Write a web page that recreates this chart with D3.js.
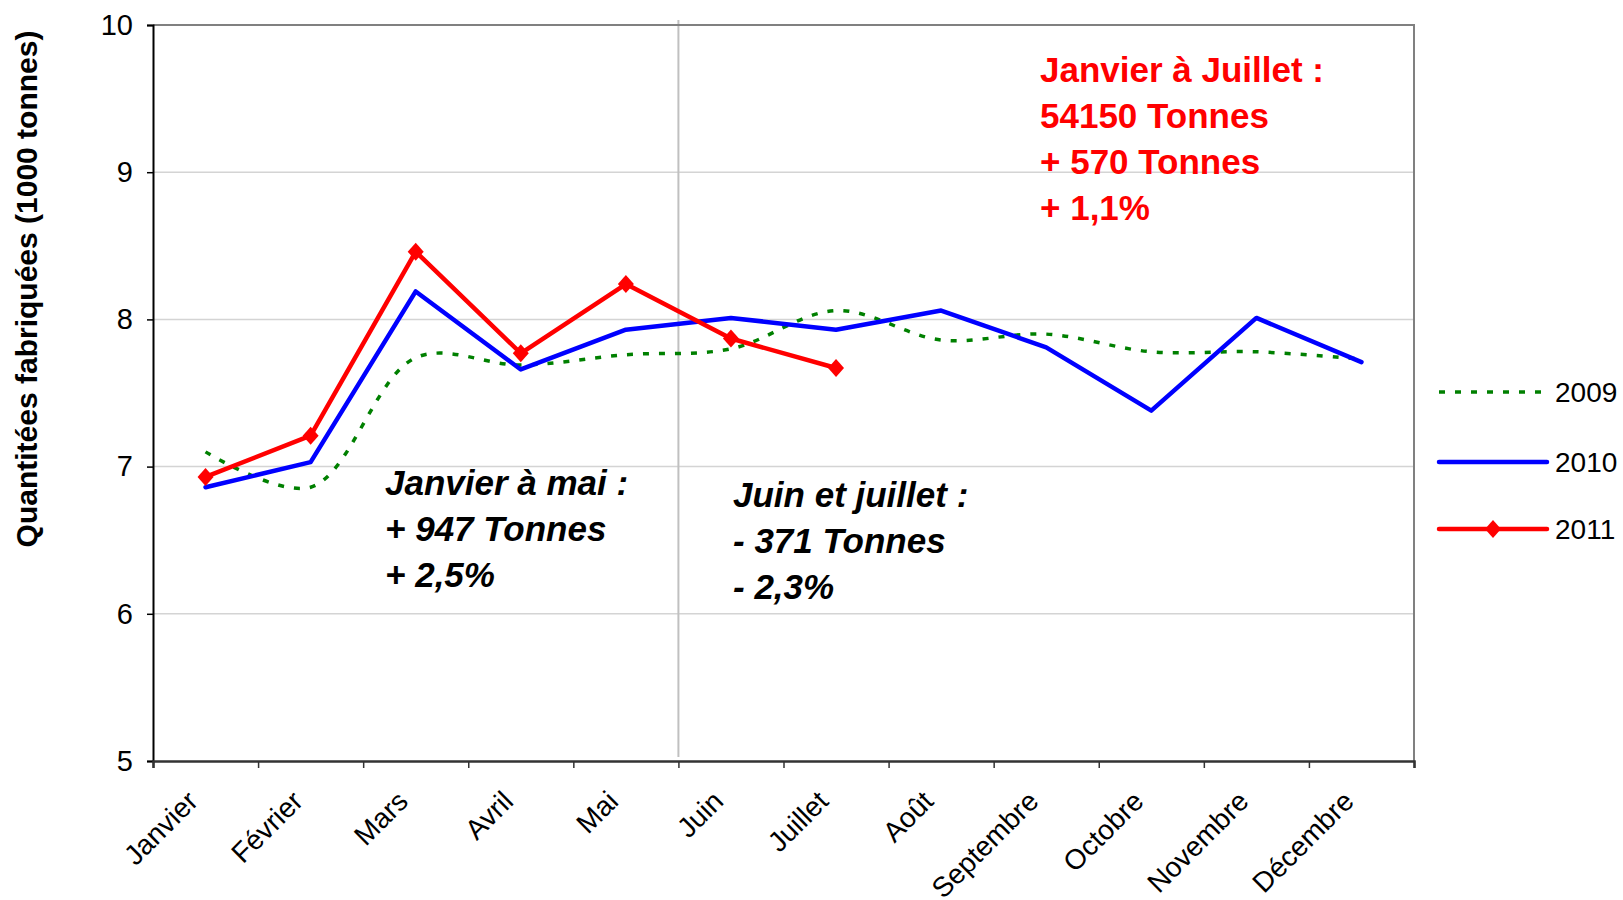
<!DOCTYPE html>
<html lang="fr">
<head>
<meta charset="UTF-8">
<title>Quantités fabriquées</title>
<script src="https://cdn.jsdelivr.net/npm/d3@7/dist/d3.min.js"></script>
<style>
  body { margin: 0; background: #fff; }
  svg { display: block; font-family: "Liberation Sans", Arial, sans-serif; }
</style>
</head>
<body>
<svg id="chart" width="1623" height="900"></svg>
<script>
// months on the x axis
const months = ['Janvier', 'Février', 'Mars', 'Avril', 'Mai', 'Juin', 'Juillet',
                'Août', 'Septembre', 'Octobre', 'Novembre', 'Décembre']
// values in 1000 tonnes
const v2009 = [7.10, 6.86, 7.74, 7.69, 7.76, 7.80, 8.06, 7.86, 7.90, 7.78, 7.78, 7.73]
const v2010 = [6.86, 7.03, 8.19, 7.66, 7.93, 8.01, 7.93, 8.06, 7.81, 7.38, 8.01, 7.71]
const v2011 = [6.93, 7.21, 8.46, 7.77, 8.24, 7.87, 7.67]
const yTicks = [5, 6, 7, 8, 9, 10]
const splitMonth = 'Juin'

const noteRed = ['Janvier à Juillet :', '54150 Tonnes', '+ 570 Tonnes', '+ 1,1%']
const noteA = ['Janvier à mai :', '+ 947 Tonnes', '+ 2,5%']
const noteB = ['Juin et juillet :', '- 371 Tonnes', '- 2,3%']

const svg = d3.select('#chart')
const L = 153, R = 1414, T = 25, B = 761

const x = d3.scaleBand().domain(months).range([L, R])
const xEdge = d3.scaleLinear().domain([0, months.length]).range([L, R])
const y = d3.scaleLinear().domain([5, 10]).range([B, T])
const cx = m => x(m) + x.bandwidth() / 2

// horizontal grid
svg.append('g')
    .selectAll('line')
    .data(yTicks.filter(t => t > 5 && t < 10))
    .join('line')
    .attr('x1', L).attr('x2', R)
    .attr('y1', d => y(d)).attr('y2', d => y(d))
    .attr('stroke', '#d4d4d4')
    .attr('stroke-width', 1.5)

// split line between Mai and Juin
svg.append('line')
    .attr('x1', x(splitMonth)).attr('x2', x(splitMonth))
    .attr('y1', T - 5).attr('y2', B - 4)
    .attr('stroke', '#c0c0c0')
    .attr('stroke-width', 2)

// top + right border
svg.append('path')
    .attr('d', `M${L},${T}H${R}V${B}`)
    .attr('fill', 'none')
    .attr('stroke', '#808080')
    .attr('stroke-width', 2)

// y axis
const yAxis = svg.append('g')
    .attr('transform', `translate(${L},0)`)
    .call(d3.axisLeft(y).tickValues(yTicks).tickFormat(d3.format('d')).tickSize(6).tickPadding(14))
yAxis.select('.domain').attr('stroke', '#000').attr('stroke-width', 2)
yAxis.selectAll('.tick line').attr('stroke', '#000').attr('stroke-width', 1.5)
yAxis.selectAll('.tick text')
    .attr('font-size', 29)
    .attr('font-family', '"Liberation Sans", Arial, sans-serif')
    .attr('fill', '#000')

// x axis ticks at category edges
const xAxis = svg.append('g')
    .attr('transform', `translate(0,${B})`)
    .call(d3.axisBottom(xEdge).tickValues(d3.range(months.length + 1)).tickSize(7).tickFormat(''))
xAxis.select('.domain').attr('stroke', '#333').attr('stroke-width', 2.5)
xAxis.selectAll('.tick line').attr('stroke', '#333').attr('stroke-width', 1.5)

svg.append('g')
    .selectAll('text')
    .data(months)
    .join('text')
    .attr('transform', d => `translate(${cx(d) - 6},${B + 42}) rotate(-45)`)
    .attr('text-anchor', 'end')
    .attr('font-size', 28)
    .text(d => d)

// y title
svg.append('text')
    .attr('transform', 'translate(37,289) rotate(-90)')
    .attr('text-anchor', 'middle')
    .attr('font-size', 30)
    .attr('font-weight', 'bold')
    .text('Quantitées fabriquées (1000 tonnes)')

// series
const line = d3.line().x((d, i) => cx(months[i])).y(d => y(d))
const smooth = d3.line().x((d, i) => cx(months[i])).y(d => y(d)).curve(d3.curveCatmullRom.alpha(0.5))

svg.append('path')
    .attr('d', smooth(v2009))
    .attr('fill', 'none')
    .attr('stroke', '#008000')
    .attr('stroke-width', 3.5)
    .attr('stroke-dasharray', '6,10')

svg.append('path')
    .attr('d', line(v2010))
    .attr('fill', 'none')
    .attr('stroke', '#0000ff')
    .attr('stroke-width', 4.5)
    .attr('stroke-linejoin', 'round')
    .attr('stroke-linecap', 'round')

svg.append('path')
    .attr('d', line(v2011))
    .attr('fill', 'none')
    .attr('stroke', '#ff0000')
    .attr('stroke-width', 4.5)
    .attr('stroke-linejoin', 'round')
    .attr('stroke-linecap', 'round')

const diamond = (w, h) => `M0,${-h}L${w},0L0,${h}L${-w},0Z`
svg.append('g')
    .selectAll('path')
    .data(v2011)
    .join('path')
    .attr('transform', (d, i) => `translate(${cx(months[i])},${y(d)})`)
    .attr('d', diamond(8, 9))
    .attr('fill', '#ff0000')

// legend
const legend = [
    { name: '2009', color: '#008000', dash: '6,10', w: 3.5, marker: false },
    { name: '2010', color: '#0000ff', dash: null, w: 4.5, marker: false },
    { name: '2011', color: '#ff0000', dash: null, w: 4.5, marker: true }
]
const legendY = [392, 462, 529]
const lg = svg.append('g')
    .selectAll('g')
    .data(legend)
    .join('g')
    .attr('transform', (d, i) => `translate(1439,${legendY[i]})`)
lg.append('line')
    .attr('x1', 0).attr('x2', 108)
    .attr('stroke', d => d.color)
    .attr('stroke-width', d => d.w)
    .attr('stroke-dasharray', d => d.dash)
    .attr('stroke-linecap', d => d.dash ? 'butt' : 'round')
lg.filter(d => d.marker).append('path')
    .attr('transform', 'translate(54,0)')
    .attr('d', diamond(8, 9))
    .attr('fill', d => d.color)
lg.append('text')
    .attr('x', 116)
    .attr('dy', '0.36em')
    .attr('font-size', 28)
    .text(d => d.name)

// annotations
function note(lines, x0, y0, color, italic) {
    svg.append('g')
        .selectAll('text')
        .data(lines)
        .join('text')
        .attr('x', x0)
        .attr('y', (d, i) => y0 + i * 46)
        .attr('font-size', 35)
        .attr('font-weight', 'bold')
        .attr('font-style', italic ? 'italic' : 'normal')
        .attr('fill', color)
        .text(d => d)
}
note(noteRed, 1040, 82, '#ff0000', false)
note(noteA, 385, 495, '#000', true)
note(noteB, 733, 507, '#000', true)
</script>
</body>
</html>
